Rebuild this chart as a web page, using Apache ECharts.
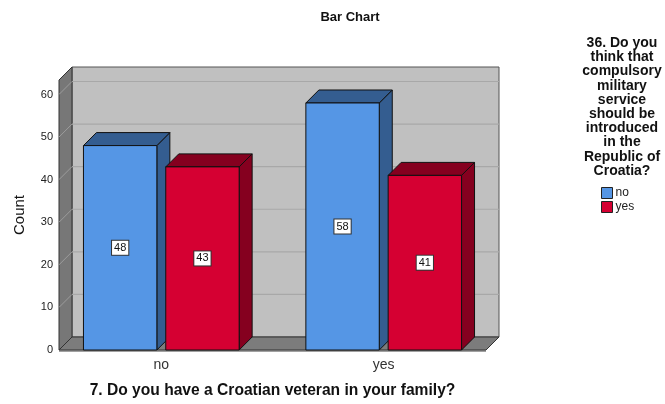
<!DOCTYPE html>
<html>
<head>
<meta charset="utf-8">
<title>Bar Chart</title>
<script src="https://cdn.jsdelivr.net/npm/echarts@6/dist/echarts.min.js"></script>
<style>
  html, body { margin: 0; padding: 0; background: #ffffff; overflow: hidden; }
  #chart { width: 665px; height: 404px; }
</style>
</head>
<body>
<div id="chart"></div>
<script>
// Counts of answers to Q36, split by Q7 (veteran in the family)
const categories = ['no', 'yes'];
const seriesNames = ['no', 'yes'];
const countsNo = [48, 58];
const countsYes = [43, 41];
const yTicks = [0, 10, 20, 30, 40, 50, 60];
const legendTitleLines = [
  '36. Do you', 'think that', 'compulsory', 'military', 'service',
  'should be', 'introduced', 'in the', 'Republic of', 'Croatia?'
];
const xTitle = '7. Do you have a Croatian veteran in your family?';
const yTitle = 'Count';
const chartTitle = 'Bar Chart';

// Axis ranges and 3D styling
const X_MIN = -0.46, X_MAX = 1.46, Y_MIN = 0, Y_MAX = 63.4;
const DEPTH = 13;              // pixel offset of the back plane
const BAR_W = 0.33;            // bar width in category units
const SLOT_START = [-0.35, 0.02];
const FONT = '"Liberation Sans", Arial, sans-serif';
const PALETTE = [
  { front: '#5596E5', shade: '#345D90' },
  { front: '#D50032', shade: '#85001F' }
];

const chart = echarts.init(document.getElementById('chart'), null, { width: 665, height: 404 });

function poly(points, fill, stroke, lw) {
  return {
    type: 'polygon',
    shape: { points: points },
    style: { fill: fill, stroke: stroke || 'none', lineWidth: lw || 0 }
  };
}

function line(p1, p2, stroke, lw) {
  return {
    type: 'line',
    shape: { x1: p1[0], y1: p1[1], x2: p2[0], y2: p2[1] },
    style: { stroke: stroke, lineWidth: lw || 1 }
  };
}

// Back wall, left wall, floor and their grid lines
function renderWalls(params, api) {
  const bl = api.coord([X_MIN, Y_MIN]);
  const tl = api.coord([X_MIN, Y_MAX]);
  const br = api.coord([X_MAX, Y_MIN]);
  const d = DEPTH;
  const children = [];
  // back wall
  children.push(poly([
    [tl[0] + d, tl[1] - d], [br[0] + d, tl[1] - d],
    [br[0] + d, bl[1] - d], [tl[0] + d, bl[1] - d]
  ], '#C0C0C0', '#555', 1));
  // left wall
  children.push(poly([
    [bl[0], bl[1]], [tl[0], tl[1]], [tl[0] + d, tl[1] - d], [bl[0] + d, bl[1] - d]
  ], '#777777', '#333', 1));
  // grid lines across the back wall and slanted ticks on the left wall
  yTicks.forEach(function (t) {
    if (t === Y_MIN) return;
    const p = api.coord([X_MIN, t]);
    children.push(line([p[0] + d, p[1] - d], [br[0] + d, p[1] - d], '#A8A8A8', 1.2));
    children.push(line([p[0], p[1]], [p[0] + d, p[1] - d], '#9C9C9C', 1));
  });
  // floor
  children.push(poly([
    [bl[0], bl[1]], [br[0], br[1]], [br[0] + d, br[1] - d], [bl[0] + d, bl[1] - d]
  ], '#7C7C7C', '#333', 1));
  children.push(line([bl[0], bl[1] + 1], [br[0], br[1] + 1], '#444', 1));
  return { type: 'group', children: children };
}

// One 3D bar (front, top, side) with its value box
function makeBarRenderer(slot) {
  const col = PALETTE[slot];
  return function (params, api) {
    const c = api.value(0);
    const v = api.value(1);
    const x0 = c + SLOT_START[slot];
    const x1 = x0 + BAR_W;
    const pBase = api.coord([x0, Y_MIN]);
    const pTop = api.coord([x1, v]);
    const xl = pBase[0], xr = pTop[0], yb = pBase[1], yt = pTop[1];
    const d = DEPTH;
    const mid = api.coord([(x0 + x1) / 2, v / 2]);
    return {
      type: 'group',
      children: [
        poly([[xr, yt], [xr + d, yt - d], [xr + d, yb - d], [xr, yb]], col.shade, '#111', 1),
        poly([[xl, yt], [xl + d, yt - d], [xr + d, yt - d], [xr, yt]], col.shade, '#111', 1),
        poly([[xl, yb], [xl, yt], [xr, yt], [xr, yb]], col.front, '#111', 1),
        {
          type: 'text',
          x: mid[0], y: mid[1],
          style: {
            text: String(v), fill: '#111', font: '11px ' + FONT,
            align: 'center', verticalAlign: 'middle',
            backgroundColor: '#ffffff', borderColor: '#333', borderWidth: 1,
            padding: [2, 2, 1, 2]
          }
        }
      ]
    };
  };
}

const seriesValues = [countsNo, countsYes];

const option = {
  animation: false,
  textStyle: { fontFamily: FONT },
  title: [
    {
      text: chartTitle, left: 350, top: 11, padding: 0, textAlign: 'center',
      textStyle: { fontSize: 13, fontWeight: 'bold', color: '#111', fontFamily: FONT }
    },
    {
      text: legendTitleLines.join('\n'), left: 622, top: 36, padding: 0, textAlign: 'center',
      textStyle: { fontSize: 14, fontWeight: 'bold', color: '#111', lineHeight: 14.2, fontFamily: FONT }
    }
  ],
  legend: {
    data: seriesNames, orient: 'vertical', left: 601, top: 187, padding: 0,
    itemWidth: 11, itemHeight: 11, itemGap: 2, icon: 'rect',
    itemStyle: { borderColor: '#222', borderWidth: 1 },
    textStyle: { fontSize: 12, color: '#222', fontFamily: FONT, padding: [0, 0, 0, -2] },
    selectedMode: false
  },
  grid: { left: 59, top: 80, width: 427, height: 275, containLabel: false },
  xAxis: {
    type: 'value', min: X_MIN, max: X_MAX,
    axisLine: { show: false }, axisTick: { show: false }, splitLine: { show: false },
    axisLabel: {
      customValues: categories.map(function (_, i) { return i; }),
      formatter: function (v) { return categories[Math.round(v)] || ''; },
      fontSize: 14, color: '#333', margin: 8
    },
    name: xTitle, nameLocation: 'middle', nameGap: 33,
    nameTextStyle: { fontSize: 15.6, fontWeight: 'bold', color: '#111' }
  },
  yAxis: {
    type: 'value', min: Y_MIN, max: Y_MAX, interval: 10,
    axisLine: { show: false }, axisTick: { show: false }, splitLine: { show: false },
    axisLabel: { fontSize: 11, color: '#222', margin: 6, showMaxLabel: false },
    name: yTitle, nameLocation: 'middle', nameGap: 32, nameRotate: 90,
    nameTextStyle: { fontSize: 15, color: '#111' }
  },
  series: [
    {
      type: 'custom', name: 'walls', z: 1, silent: true,
      data: [[0, 0]], encode: { x: 0, y: 1 },
      renderItem: renderWalls
    }
  ].concat(seriesNames.map(function (name, s) {
    return {
      type: 'custom', name: name, z: 2,
      itemStyle: { color: PALETTE[s].front },
      data: categories.map(function (_, i) { return [i, seriesValues[s][i]]; }),
      encode: { x: 0, y: 1 },
      renderItem: makeBarRenderer(s)
    };
  }))
};

chart.setOption(option);
</script>
</body>
</html>
